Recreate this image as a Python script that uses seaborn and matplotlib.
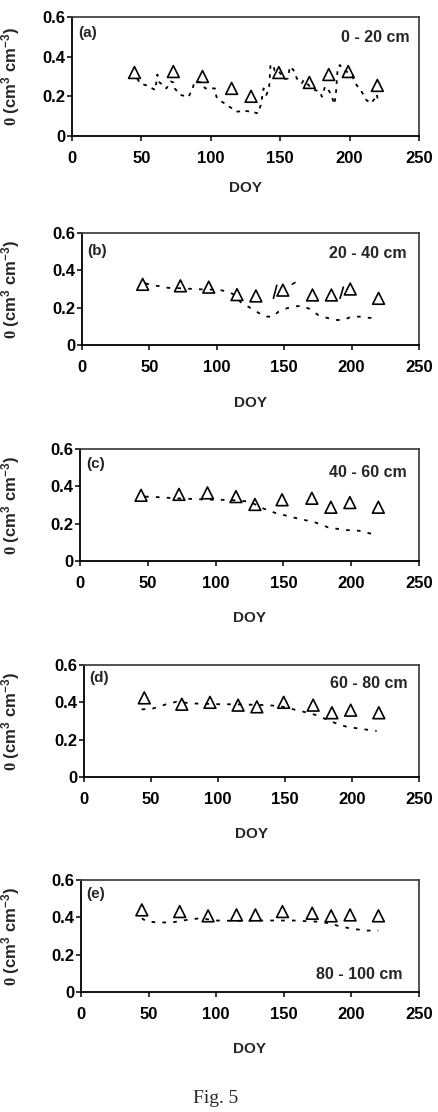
import matplotlib
matplotlib.use("Agg")
import matplotlib.pyplot as plt
import numpy as np
import pandas as pd
import seaborn as sns

# ---------------- data ----------------
obs_doy = [45, 73, 94, 115, 129, 149, 171, 185, 199, 220]
obs_a = [0.32, 0.325, 0.30, 0.24, 0.20, 0.32, 0.27, 0.31, 0.325, 0.255]
obs_b = [0.325, 0.317, 0.31, 0.27, 0.263, 0.294, 0.268, 0.268, 0.30, 0.25]
obs_c = [0.352, 0.357, 0.365, 0.345, 0.303, 0.328, 0.336, 0.288, 0.313, 0.288]
obs_d = [0.424, 0.39, 0.40, 0.385, 0.376, 0.40, 0.385, 0.344, 0.358, 0.344]
obs_e = [0.44, 0.431, 0.408, 0.413, 0.413, 0.431, 0.422, 0.408, 0.413, 0.408]

sim_a_doy = [47, 49, 54, 60, 61.5, 63, 66, 68, 71, 73, 74, 78, 84, 87, 88, 90, 93,
             96, 99, 103, 104, 108, 114, 119, 125, 129, 134, 136, 138, 140, 142,
             143, 145, 146, 148, 151, 153.5, 155.5, 157, 159.5, 162, 165.5, 167,
             170, 172.7, 175, 178.7, 180, 182.3, 184, 187, 188.8, 190, 191.4, 193,
             195.5, 199, 202, 205, 208.7, 212.3, 215.4, 218.3, 219.5, 220.7]
sim_a = [0.29, 0.266, 0.254, 0.232, 0.31, 0.27, 0.255, 0.24, 0.275, 0.27, 0.24,
         0.207, 0.198, 0.24, 0.27, 0.275, 0.27, 0.24, 0.24, 0.24, 0.198, 0.173,
         0.145, 0.123, 0.126, 0.123, 0.114, 0.156, 0.24, 0.207, 0.24, 0.358, 0.358,
         0.33, 0.335, 0.307, 0.287, 0.29, 0.35, 0.333, 0.29, 0.266, 0.282, 0.26,
         0.24, 0.232, 0.223, 0.198, 0.249, 0.24, 0.207, 0.16, 0.2, 0.341, 0.358,
         0.333, 0.32, 0.30, 0.257, 0.223, 0.18, 0.165, 0.19, 0.21, 0.173]

sim_b_doy = [47, 52, 58, 64, 70, 76, 83, 89, 95, 102, 108, 113, 118.5, 123.4,
             129.6, 135.8, 141.9, 145.6, 151.8, 155.5, 163, 169, 175.3, 181.5,
             187.7, 193.9, 200, 206, 212.4, 218.6]
sim_b = [0.33, 0.32, 0.315, 0.306, 0.305, 0.303, 0.30, 0.298, 0.297, 0.295,
         0.286, 0.27, 0.223, 0.205, 0.178, 0.152, 0.152, 0.178, 0.196, 0.205,
         0.21, 0.193, 0.16, 0.146, 0.134, 0.134, 0.152, 0.152, 0.146, 0.143]

jump_b_doy = [142, 144.5, 156, 158, 191.4, 193.9]
jump_b = [0.25, 0.32, 0.325, 0.335, 0.25, 0.31]
jump_b_seg = [0, 0, 1, 1, 2, 2]

sim_c_doy = [48, 55, 62, 70, 80, 90, 100, 110, 118, 125, 130, 135, 140, 145, 151,
             157, 164, 172, 178, 183, 190, 196, 202, 206, 211, 217]
sim_c = [0.345, 0.343, 0.34, 0.336, 0.333, 0.33, 0.328, 0.327, 0.323, 0.318,
         0.30, 0.282, 0.268, 0.255, 0.245, 0.234, 0.222, 0.21, 0.195, 0.18,
         0.172, 0.166, 0.163, 0.162, 0.152, 0.143]

sim_d_doy = [43, 51.5, 61.5, 69, 81, 91, 101, 116, 126, 136, 146, 153.6, 163.6,
             173.6, 182, 189, 196, 208.4, 218.4]
sim_d = [0.362, 0.367, 0.39, 0.403, 0.394, 0.392, 0.39, 0.389, 0.387, 0.385,
         0.38, 0.367, 0.35, 0.331, 0.305, 0.285, 0.269, 0.256, 0.247]

sim_e_doy = [45, 48.6, 58.4, 68.3, 78.2, 88, 100.3, 112.7, 125, 137.3, 147, 157,
             165, 174.3, 184.2, 191.6, 201.4, 211.3, 219.9]
sim_e = [0.395, 0.377, 0.372, 0.374, 0.386, 0.395, 0.383, 0.381, 0.382, 0.383,
         0.383, 0.383, 0.38, 0.377, 0.368, 0.351, 0.338, 0.329, 0.329]

panel_tags = ["(a)", "(b)", "(c)", "(d)", "(e)"]
depth_labels = ["0 - 20 cm", "20 - 40 cm", "40 - 60 cm", "60 - 80 cm", "80 - 100 cm"]
x_ticks = [0, 50, 100, 150, 200, 250]
y_ticks = [0, 0.2, 0.4, 0.6]
y_ticklabels = ["0", "0.2", "0.4", "0.6"]
x_title = "DOY"
y_title = r"$\mathrm{0}$ $\mathbf{(cm^{3}\ cm^{-3})}$"
caption = "Fig. 5"

# ---------------- style ----------------
sns.set_theme(style="ticks")
plt.rcParams["font.family"] = ["Liberation Sans", "DejaVu Sans"]
plt.rcParams["font.weight"] = "bold"
plt.rcParams["mathtext.fontset"] = "custom"
plt.rcParams["mathtext.rm"] = "Liberation Serif"
plt.rcParams["mathtext.bf"] = "Liberation Sans:bold"
plt.rcParams["mathtext.it"] = "Liberation Sans:italic"
plt.rcParams["mathtext.sf"] = "Liberation Sans"

W, H = 439, 1112
fig = plt.figure(figsize=(W / 100, H / 100), dpi=100)
fig.patch.set_facecolor("white")

# axes boxes in pixels: left, top, right, bottom
boxes = [(72, 17, 419, 136), (82, 233, 419, 345), (80, 449, 419, 561),
         (84, 665, 419, 777), (81, 880, 419, 992)]
tag_y = [0.832, 0.80, 0.83, 0.848, 0.84]
depth_pos = [(0.974, 0.79), (0.964, 0.777), (0.965, 0.75), (0.967, 0.795), (0.95, 0.116)]
xlabel_pad = [11, 15.5, 15, 14.5, 14.5]

obs_sets = [obs_a, obs_b, obs_c, obs_d, obs_e]
sim_sets = [(sim_a_doy, sim_a), (sim_b_doy, sim_b), (sim_c_doy, sim_c),
            (sim_d_doy, sim_d), (sim_e_doy, sim_e)]

for i, (l, t, r, b) in enumerate(boxes):
    ax = fig.add_axes([l / W, 1 - b / H, (r - l) / W, (b - t) / H])
    ax.set_facecolor("white")
    sx, sy = sim_sets[i]
    dash = (0, (2.0, 3.0)) if i == 0 else (0, (2.0, 4.0))
    sns.lineplot(x=sx, y=sy, ax=ax, color="black", linewidth=1.3,
                 linestyle=dash, estimator=None, sort=False)
    if i == 1:
        jdf = pd.DataFrame({"doy": jump_b_doy, "v": jump_b, "seg": jump_b_seg})
        sns.lineplot(data=jdf, x="doy", y="v", units="seg", estimator=None,
                     ax=ax, color="black", linewidth=1.2, sort=False)
    sns.scatterplot(x=obs_doy, y=obs_sets[i], ax=ax, marker="^", s=72,
                    facecolor="none", edgecolor="black", linewidth=1.2, zorder=5)

    ax.set_xlim(0, 250)
    ax.set_ylim(0, 0.6)
    ax.set_xticks(x_ticks)
    ax.set_xticklabels([str(v) for v in x_ticks])
    ax.set_yticks(y_ticks)
    ax.set_yticklabels(y_ticklabels)
    ax.tick_params(axis="x", direction="out", length=3.5, width=1.1, pad=7,
                   labelsize=12, colors="black")
    ax.tick_params(axis="y", direction="out", length=3.5, width=1.1, pad=1.5,
                   labelsize=12, colors="black")
    for lab in ax.get_xticklabels() + ax.get_yticklabels():
        lab.set_fontweight("bold")
    for side in ["left", "bottom"]:
        ax.spines[side].set_color("black")
        ax.spines[side].set_linewidth(1.3)
    for side in ["top", "right"]:
        ax.spines[side].set_visible(True)
        ax.spines[side].set_color("#444444")
        ax.spines[side].set_linewidth(1.3)

    ax.set_xlabel(x_title, fontsize=11, fontweight="bold", labelpad=xlabel_pad[i])
    ax.set_ylabel(y_title, fontsize=12)
    ax.yaxis.set_label_coords((22 - l) / (r - l), 0.5)

    ax.text(0.017, tag_y[i], panel_tags[i], transform=ax.transAxes,
            fontsize=11, fontweight="bold", ha="left", va="baseline")
    dx, dy = depth_pos[i]
    ax.text(dx, dy, depth_labels[i], transform=ax.transAxes,
            fontsize=11.5, fontweight="bold", ha="right", va="baseline")

fig.text(216 / W, 1 - 1090 / H, caption, family="Liberation Serif",
         fontweight="normal", fontsize=14, ha="center", va="top")

fig.savefig("out.png", dpi=100, facecolor="white")
